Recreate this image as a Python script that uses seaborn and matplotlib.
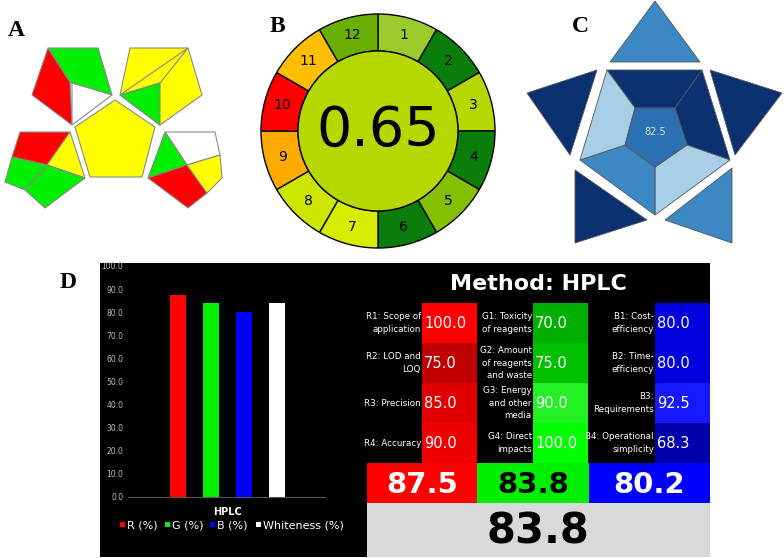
import numpy as np
import matplotlib
matplotlib.use("Agg")
import matplotlib.pyplot as plt
from matplotlib.patches import Polygon, Wedge, Circle, Rectangle
import seaborn as sns
import pandas as pd

# ---- data ----
agree_score = "0.65"
agree_numbers = [str(i) for i in range(1, 13)]
agree_colors = ["#9ccc2c", "#0b7d0b", "#b4d800", "#0b7d0b", "#84c000", "#0b7d0b",
                "#d8ec00", "#cce600", "#ffaa00", "#ff0000", "#ffbf00", "#6aae00"]
bagi_score = "82.5"

methods = ["HPLC"]
rgb_series = ["R (%)", "G (%)", "B (%)", "Whiteness (%)"]
rgb_values = [87.5, 83.8, 80.2, 83.8]
rgb_colors = ["#ff0000", "#00ee00", "#0000ff", "#ffffff"]

red_labels = ["R1: Scope of\napplication", "R2: LOD and\nLOQ", "R3: Precision", "R4: Accuracy"]
red_values = [100.0, 75.0, 85.0, 90.0]
green_labels = ["G1: Toxicity\nof reagents", "G2: Amount\nof reagents\nand waste",
                "G3: Energy\nand other\nmedia", "G4: Direct\nimpacts"]
green_values = [70.0, 75.0, 90.0, 100.0]
blue_labels = ["B1: Cost-\nefficiency", "B2: Time-\nefficiency", "B3:\nRequirements",
               "B4: Operational\nsimplicity"]
blue_values = [80.0, 80.0, 92.5, 68.3]
red_cells = ["#ff0000", "#c00000", "#e00000", "#ee0000"]
green_cells = ["#00b000", "#00c000", "#22f022", "#00ff00"]
blue_cells = ["#0000dd", "#0000dd", "#1818ff", "#0000aa"]
col_scores = [87.5, 83.8, 80.2]
whiteness = 83.8

W, H = 784, 558
fig = plt.figure(figsize=(W / 100, H / 100), dpi=100)
ax = fig.add_axes([0, 0, 1, 1])
ax.set_xlim(0, W)
ax.set_ylim(H, 0)
ax.axis("off")

def poly(pts, fc, ec="#888888", lw=0.8, z=2):
    ax.add_patch(Polygon(pts, closed=True, fc=fc, ec=ec, lw=lw, zorder=z))

lab = dict(fontsize=17, fontweight="bold", family="Liberation Serif", va="center", ha="center")
ax.text(16, 30, "A", **lab)
ax.text(277, 26, "B", **lab)
ax.text(580, 26, "C", **lab)
ax.text(68, 283, "D", **lab)

# ---- A: pictogram ----
poly([(115, 100), (155, 127), (142, 177), (90, 177), (75, 127)], "#ffff00")
poly([(48, 48), (70, 82), (72, 125), (32, 95)], "#ff0000")
poly([(48, 48), (98, 48), (112, 95), (72, 83), (70, 82)], "#00ee00")
poly([(72, 83), (112, 95), (72, 125)], "#ffffff")
poly([(130, 48), (188, 48), (202, 95), (160, 125), (120, 95)], "#ffff00")
poly([(188, 48), (160, 83), (120, 95)], "#ffff00")
poly([(120, 95), (160, 83), (160, 125)], "#00ee00")
poly([(20, 132), (70, 132), (47, 165), (12, 157)], "#ff0000")
poly([(70, 132), (85, 178), (47, 165)], "#ffff00")
poly([(12, 157), (47, 165), (25, 190), (5, 182)], "#00ee00")
poly([(47, 165), (85, 178), (45, 208), (25, 190)], "#00ee00")
poly([(165, 132), (215, 132), (220, 155), (187, 165)], "#ffffff")
poly([(165, 132), (187, 165), (148, 178)], "#00ee00")
poly([(148, 178), (187, 165), (207, 193), (188, 208)], "#ff0000")
poly([(187, 165), (220, 155), (222, 178), (207, 193)], "#ffff00")

# ---- B: AGREE (y axis is flipped, so angles run clockwise from -90 = top) ----
cx, cy, R, r = 378, 131, 117, 80
for i, (num, c) in enumerate(zip(agree_numbers, agree_colors)):
    a1 = -90 + 30 * i
    ax.add_patch(Wedge((cx, cy), R, a1, a1 + 30, width=R - r, fc=c, ec="black", lw=1, zorder=2))
    mid = np.deg2rad(a1 + 15)
    ax.text(cx + 99 * np.cos(mid), cy + 99 * np.sin(mid), num, fontsize=10,
            ha="center", va="center", zorder=3)
ax.add_patch(Circle((cx, cy), r, fc="#b4d800", ec="black", lw=1, zorder=2))
ax.text(cx, cy, agree_score, fontsize=40, ha="center", va="center", zorder=3)

# ---- C: BAGI ----
dark, mid_c, light, cen = "#0b3170", "#3b88c3", "#a9cfe6", "#2b70b3"
ek = dict(ec="#555555", lw=0.6)
poly([(655, 1), (700, 62), (610, 62)], mid_c, **ek)
poly([(597, 70), (570, 155), (527, 93)], dark, **ek)
poly([(710, 70), (782, 93), (735, 155)], dark, **ek)
poly([(575, 170), (647, 220), (575, 243)], dark, **ek)
poly([(732, 168), (732, 243), (665, 220)], mid_c, **ek)
outer = [(607, 70), (702, 70), (730, 160), (655, 215), (580, 160)]
inner = [(635, 108), (675, 108), (687, 145), (655, 167), (625, 145)]
ring_cols = [dark, dark, light, mid_c, light]
for k in range(5):
    j = (k + 1) % 5
    poly([outer[k], outer[j], inner[j], inner[k]], ring_cols[k], **ek)
poly(inner, cen, **ek)
ax.text(655, 132, bagi_score, color="#dddddd", fontsize=7, ha="center", va="center", zorder=3)

# ---- D: RGB ----
ax.add_patch(Rectangle((100, 263), 610, 294, fc="black", zorder=1))
bx = fig.add_axes([128 / W, 1 - 497 / H, (325 - 128) / W, (497 - 266) / H])
bx.set_facecolor("black")
df = pd.DataFrame({"series": rgb_series, "value": rgb_values})
sns.barplot(data=df, x="series", y="value", hue="series", palette=rgb_colors,
            width=0.48, saturation=1, legend=False, ax=bx)
bx.set_xlim(-1.5, 4.45)
bx.set_ylim(0, 100)
bx.set_yticks(np.arange(0, 101, 10))
bx.set_yticklabels([f"{v:.1f}" for v in range(0, 101, 10)], fontsize=5.5, color="#bbbbbb")
bx.set_xticks([])
bx.set_xlabel("")
bx.set_ylabel("")
bx.tick_params(length=0)
for s in ["top", "right", "left"]:
    bx.spines[s].set_visible(False)
bx.spines["bottom"].set_color("#555555")
ax.text(228, 512, methods[0], color="white", fontsize=7, fontweight="bold",
        family="Liberation Sans Narrow", ha="center", va="center", zorder=3)
for k, (s, c) in enumerate(zip(rgb_series, rgb_colors)):
    x0 = [120, 165, 210, 256][k]
    ax.add_patch(Rectangle((x0, 522), 5, 5, fc=c, zorder=3))
    ax.text(x0 + 7, 525, s, color="white", fontsize=8, family="Liberation Sans Narrow",
            va="center", zorder=3)

ax.text(538, 284, "Method: HPLC", color="white", fontsize=16, fontweight="bold",
        ha="center", va="center", zorder=3)
cols = [(422, red_labels, red_values, red_cells),
        (533, green_labels, green_values, green_cells),
        (655, blue_labels, blue_values, blue_cells)]
for x0, labels, vals, cells in cols:
    for i, (lt, v, c) in enumerate(zip(labels, vals, cells)):
        y0 = 303 + 40 * i
        ax.add_patch(Rectangle((x0, y0), 55, 40, fc=c, zorder=2))
        ax.text(x0 - 1, y0 + 20, lt, color="white", fontsize=6.3, ha="right", va="center",
                family="Liberation Sans Narrow", linespacing=1.5, zorder=3)
        ax.text(x0 + 2, y0 + 20, f"{v:.1f}", color="white", fontsize=10.5, ha="left",
                va="center", family="Liberation Sans Narrow", zorder=3)
score_x = [(367, 110, "#ff0000", "white"), (477, 112, "#00ee00", "black"),
           (589, 121, "#0000ff", "white")]
for (x0, w, c, tc), v in zip(score_x, col_scores):
    ax.add_patch(Rectangle((x0, 463), w, 40, fc=c, zorder=2))
    ax.text(x0 + w / 2, 485, f"{v:.1f}", color=tc, fontsize=21, fontweight="bold",
            ha="center", va="center", zorder=3)
ax.add_patch(Rectangle((367, 503), 343, 54, fc="#d9d9d9", zorder=2))
ax.text(538, 532, f"{whiteness:.1f}", color="black", fontsize=30, fontweight="bold",
        ha="center", va="center", zorder=3)

fig.savefig("out.png", dpi=100)
